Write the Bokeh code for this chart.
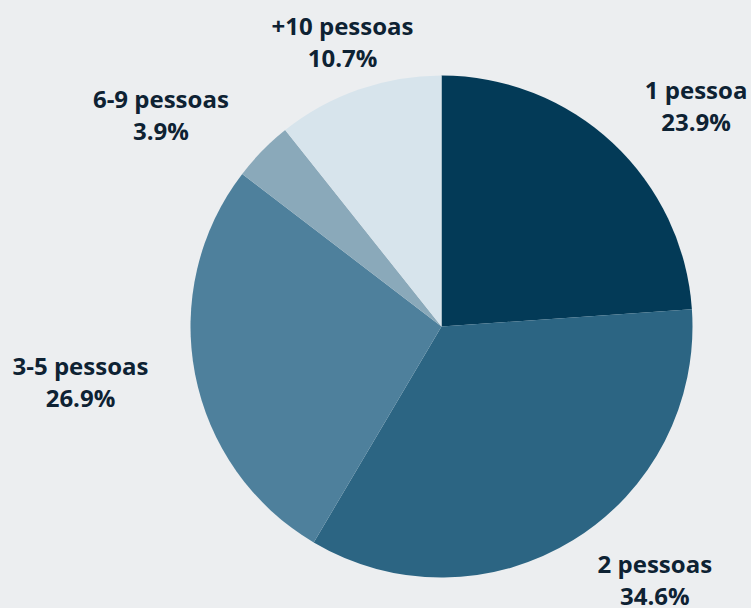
import math
from bokeh.plotting import figure
from bokeh.models import Range1d, ColumnDataSource
from bokeh.core.properties import value
from bokeh.embed import file_html
from bokeh.resources import INLINE

categories = ["1 pessoa", "2 pessoas", "3-5 pessoas", "6-9 pessoas", "+10 pessoas"]
percents = [23.9, 34.6, 26.9, 3.9, 10.7]
colors = ["#033A57", "#2C6583", "#4E809C", "#8AA9BA", "#D7E4EC"]

BG = "#ECEEF0"
TXT = "#0E2233"
W, H = 751, 608
cx, cy = 441, H - 326
R = 251
LR = 300
FS = 24

# approximate Open Sans Bold advance widths (units per em = 2048)
ADV = {" ": 532, "%": 1849, "+": 1171, "-": 659, ".": 586, "a": 1186, "e": 1149,
       "o": 1237, "p": 1255, "s": 997}
def text_w(s):
    return sum(ADV.get(ch, 1171) for ch in s) / 2048 * FS

total = sum(percents)
starts, ends, lx, ly = [], [], [], []
cum = 0.0
for name, v in zip(categories, percents):
    a0 = math.pi / 2 - 2 * math.pi * cum / total
    cum += v
    a1 = math.pi / 2 - 2 * math.pi * cum / total
    starts.append(a0)
    ends.append(a1)
    mid = (a0 + a1) / 2
    x = cx + LR * math.cos(mid)
    y = cy + LR * math.sin(mid)
    c = math.cos(mid)
    w = text_w(name)
    if abs(c) >= 0.5:
        x += (w / 2) if c > 0 else -(w / 2)
    lx.append(x)
    ly.append(y)

src = ColumnDataSource(dict(start=starts, end=ends, color=colors))
lab = ColumnDataSource(dict(x=lx, y=ly, name=categories,
                            pct=[f"{v:.1f}%" for v in percents]))

p = figure(width=W, height=H, output_backend="svg", toolbar_location=None,
           x_range=Range1d(0, W), y_range=Range1d(0, H), min_border=0,
           background_fill_color=BG, border_fill_color=BG)
p.axis.visible = False
p.grid.visible = False
p.outline_line_color = None

p.wedge(x=cx, y=cy, radius=R, start_angle="start", end_angle="end",
        direction="clock", fill_color="color", line_color=None, source=src)

common = dict(text_font=value("Open Sans"), text_font_style="bold",
              text_font_size=f"{FS}px", text_color=TXT, text_align="center",
              text_baseline="middle", source=lab)
p.text(x="x", y="y", text="name", y_offset=-18, **common)
p.text(x="x", y="y", text="pct", y_offset=14, **common)

html = file_html(p, INLINE)
html = html.replace("<head>", f"<head><style>html,body{{margin:0;padding:0;background:{BG};overflow:hidden}}</style>", 1)
open("out.html", "w").write(html)
